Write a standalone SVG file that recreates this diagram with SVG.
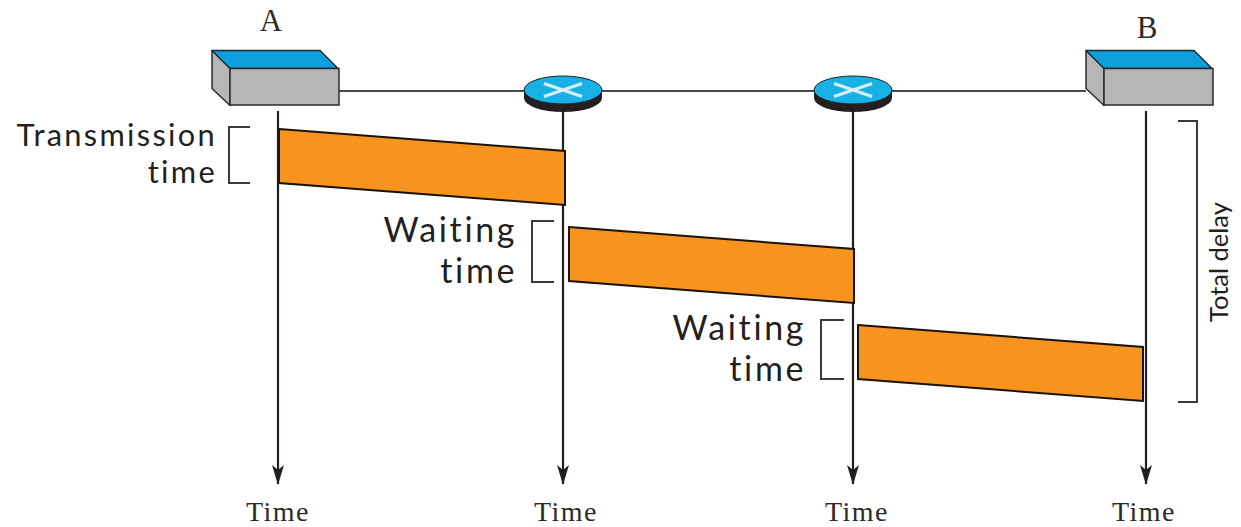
<svg xmlns="http://www.w3.org/2000/svg" width="1241" height="527" viewBox="0 0 1241 527">
<defs>
<marker id="arr" viewBox="0 0 20 12" refX="19" refY="6" markerWidth="20" markerHeight="12" markerUnits="userSpaceOnUse" orient="auto"><path d="M0 0 L5 6 L0 12 L20 6 Z" fill="#231f20"/></marker>
<g id="host"><path d="M1 0 L19 17 V55 L1 38 Z" fill="#b5b6b8" stroke="#2b2b2b" stroke-width="1.500" stroke-linejoin="round"/><path d="M1 0 H109 L127 18 H19 Z" fill="#0f9fde" stroke="#1c2a33" stroke-width="1.500" stroke-linejoin="round"/><rect x="19" y="18" width="109" height="36.500" fill="#b5b6b8" stroke="#2b2b2b" stroke-width="1.500"/></g>
<g id="router"><path d="M-39 0 V8 A39 14 0 0 0 39 8 V0 Z" fill="#231f20"/><ellipse cx="0" cy="0" rx="39" ry="14" fill="#18b1e6" stroke="#231f20" stroke-width="1"/><path d="M-19 -6.500 L19 6.500 M-19 6.500 L19 -6.500" stroke="#d6eef8" stroke-width="3" fill="none"/></g>
</defs>
<style>
.serif{font-family:"Liberation Serif","Times New Roman",serif;font-size:31px;fill:#2b2b2b}
.time{font-size:28px;letter-spacing:1.500px}
.sans{font-family:Lato,"Open Sans",sans-serif;fill:#231f20;text-anchor:end}
.t1{font-size:30.800px;letter-spacing:2.300px}
.t2{font-size:34px;letter-spacing:2.600px}
.bar{fill:#f7941e;stroke:#1c1208;stroke-width:2}
.line{fill:none;stroke:#4a4a4c;stroke-width:2}
.axis{fill:none;stroke:#231f20;stroke-width:2.200;marker-end:url(#arr)}
.bracket{fill:none;stroke:#3a3a3c;stroke-width:2}
</style>
<rect width="1241" height="527" fill="#fff"/>
<g id="connectors">
<path class="line" d="M339 91 H1086"/>
<path class="axis" d="M278 111 V484"/>
<path class="axis" d="M563 112 V484"/>
<path class="axis" d="M853 112 V484"/>
<path class="axis" d="M1146 111 V484"/>
</g>
<g id="bars">
<path class="bar" d="M279 129 L565 151 V205 L279 183 Z"/>
<path class="bar" d="M569 227 L854 249 V303 L569 281 Z"/>
<path class="bar" d="M858 325 L1143 347 V401 L858 379 Z"/>
</g>
<g id="host-a"><use href="#host" x="211" y="50.500"/><text class="serif" x="271" y="31" text-anchor="middle">A</text></g>
<g id="router-1"><use href="#router" x="563" y="90"/></g>
<g id="router-2"><use href="#router" x="853" y="90"/></g>
<g id="host-b"><use href="#host" x="1085" y="50.500"/><text class="serif" x="1147" y="38" text-anchor="middle">B</text></g>
<g id="label-transmission"><path class="bracket" d="M250 127 H229 V183 H250"/><text class="sans t1" x="217" y="146">Transmission</text><text class="sans t1" x="217" y="183">time</text></g>
<g id="label-waiting-1"><path class="bracket" d="M554 221 H532 V282 H554"/><text class="sans t2" x="517" y="242">Waiting</text><text class="sans t2" x="517" y="283">time</text></g>
<g id="label-waiting-2"><path class="bracket" d="M844 320 H821 V379 H844"/><text class="sans t2" x="806" y="340">Waiting</text><text class="sans t2" x="806" y="381">time</text></g>
<g id="label-total"><path class="bracket" d="M1178 121 H1197 V402 H1178"/><text class="sans" transform="translate(1228 322) rotate(-90)" style="font-size:25.500px;text-anchor:start">Total delay</text></g>
<g id="time-labels">
<text class="serif time" x="278" y="520.500" text-anchor="middle">Time</text>
<text class="serif time" x="566" y="520.500" text-anchor="middle">Time</text>
<text class="serif time" x="857" y="520.500" text-anchor="middle">Time</text>
<text class="serif time" x="1144" y="520.500" text-anchor="middle">Time</text>
</g>
</svg>
